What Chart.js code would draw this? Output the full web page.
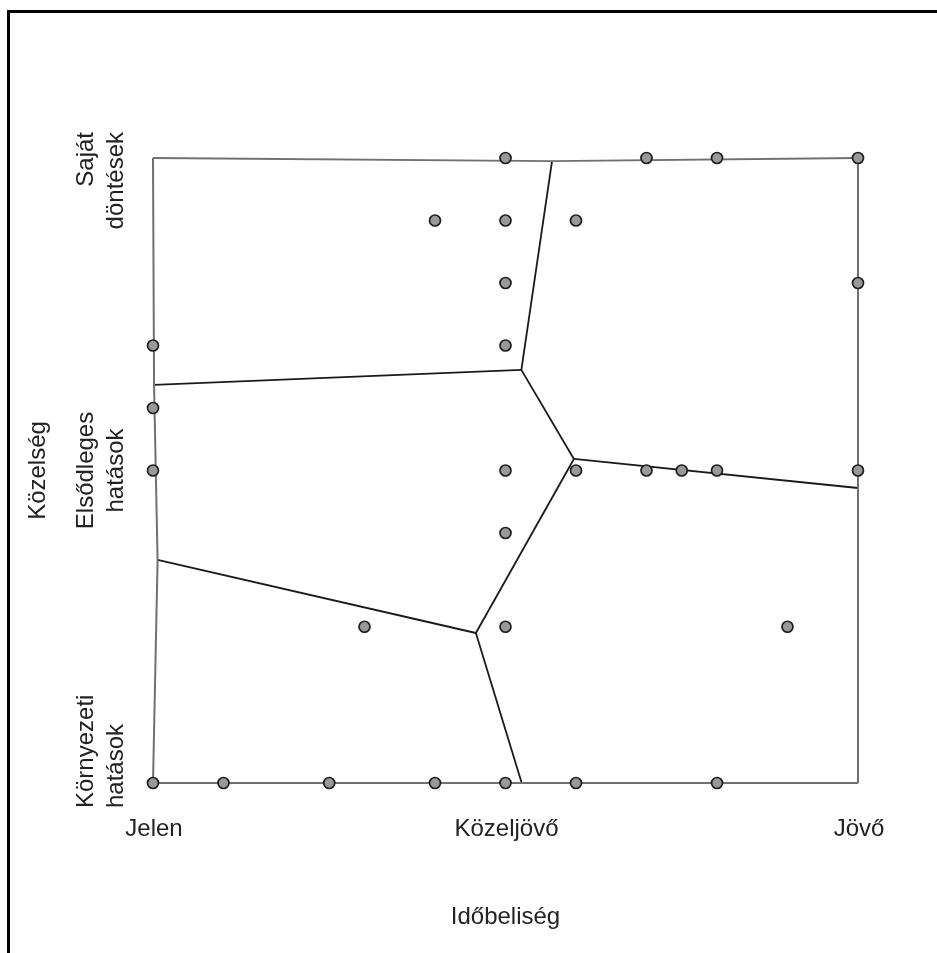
<!DOCTYPE html>
<html>
<head>
<meta charset="utf-8">
<script src="https://cdn.jsdelivr.net/npm/chart.js@4/dist/chart.umd.min.js"></script>
<style>
  html, body { margin: 0; padding: 0; background: #fff; }
  #wrap { position: relative; width: 937px; height: 953px; overflow: hidden; }
  #frame { position: absolute; left: 7px; top: 10px; width: 2000px; height: 2000px;
           border-left: 3px solid #000; border-top: 3px solid #000; pointer-events: none; }
</style>
</head>
<body>
<div id="wrap">
  <div id="frame"></div>
  <canvas id="chart"></canvas>
</div>
<script>
// pontok (idobeliseg, kozelseg)
var pontX = [1.0, 1.4, 1.6, 2.0,
             0.8, 1.0, 1.2,
             1.0, 2.0,
             0.0, 1.0,
             0.0,
             0.0, 1.0, 1.2, 1.4, 1.5, 1.6, 2.0,
             1.0,
             0.6, 1.0, 1.8,
             0.0, 0.2, 0.5, 0.8, 1.0, 1.2, 1.6];
var pontY = [2.0, 2.0, 2.0, 2.0,
             1.8, 1.8, 1.8,
             1.6, 1.6,
             1.4, 1.4,
             1.2,
             1.0, 1.0, 1.0, 1.0, 1.0, 1.0, 1.0,
             0.8,
             0.5, 0.5, 0.5,
             0.0, 0.0, 0.0, 0.0, 0.0, 0.0, 0.0];

// Voronoi csucsok
var csucsok = {
  A: [0.0, 2.0],   B: [1.132, 1.99], C: [2.0, 2.0],
  D: [1.045, 1.322], E: [0.003, 1.274], F: [1.194, 1.037],
  G: [2.0, 0.944], H: [0.013, 0.714], I: [0.916, 0.48],
  J: [1.046, 0.0], K: [0.0, 0.0],   L: [2.0, 0.0]
};
// keret es belso elek
var keretElek = [['A','B','C'], ['C','G','L'], ['L','J','K'], ['K','H','E','A']];
var belsoElek = [['B','D'], ['D','E'], ['D','F'], ['F','G'], ['F','I'], ['I','H'], ['I','J']];

var xErtekek = [0, 1, 2];
var xFeliratok = ['Jelen', 'Közeljövő', 'Jövő'];
var yErtekek = [0, 1, 2];
var yFeliratok = [['Környezeti', 'hatások'], ['Elsődleges', 'hatások'], ['Saját', 'döntések']];
var xCim = 'Időbeliség';
var yCim = 'Közelség';

function utvonal(nevek){
  return nevek.map(function(n){ return {x: csucsok[n][0], y: csucsok[n][1]}; });
}

var datasets = [];
datasets.push({
  type: 'scatter',
  data: pontX.map(function(x, i){ return {x: x, y: pontY[i]}; }),
  pointRadius: 5.5,
  pointBackgroundColor: '#999999',
  pointBorderColor: '#1e1e1e',
  pointBorderWidth: 1.7,
  clip: false
});
keretElek.forEach(function(e){
  datasets.push({ type: 'line', data: utvonal(e), borderColor: '#707070', borderWidth: 2,
    pointRadius: 0, fill: false, tension: 0, clip: false });
});
belsoElek.forEach(function(e){
  datasets.push({ type: 'line', data: utvonal(e), borderColor: '#1a1a1a', borderWidth: 1.8,
    pointRadius: 0, fill: false, tension: 0, clip: false });
});

var FONT = '24px "Liberation Sans", Arial, sans-serif';

var feliratok = {
  id: 'feliratok',
  afterDraw: function(chart){
    var ctx = chart.ctx, sx = chart.scales.x, sy = chart.scales.y;
    ctx.save();
    ctx.font = FONT;
    ctx.fillStyle = '#222';
    ctx.textBaseline = 'alphabetic';
    // x tengely
    ctx.textAlign = 'center';
    xErtekek.forEach(function(v, i){
      ctx.fillText(xFeliratok[i], sx.getPixelForValue(v) + 1, 836);
    });
    ctx.fillText(xCim, (sx.left + sx.right) / 2, 924);
    // y tengely
    yErtekek.forEach(function(v, i){
      var py = sy.getPixelForValue(v);
      var igazit = 'center', eltol = 0;
      if (i === 0) { igazit = 'left'; eltol = 25; }
      if (i === yErtekek.length - 1) { igazit = 'right'; eltol = -26; }
      ctx.save();
      ctx.translate(93, py + eltol);
      ctx.rotate(-Math.PI / 2);
      ctx.textAlign = igazit;
      yFeliratok[i].forEach(function(sor, k){ ctx.fillText(sor, 0, k * 30); });
      ctx.restore();
    });
    ctx.save();
    ctx.translate(45, (sy.top + sy.bottom) / 2);
    ctx.rotate(-Math.PI / 2);
    ctx.textAlign = 'center';
    ctx.fillText(yCim, 0, 0);
    ctx.restore();
    ctx.restore();
  }
};

new Chart(document.getElementById('chart'), {
  type: 'scatter',
  data: { datasets: datasets },
  options: {
    responsive: true,
    maintainAspectRatio: false,
    animation: false,
    layout: { padding: { left: 153, right: 79, top: 158, bottom: 170 } },
    scales: {
      x: { type: 'linear', min: 0, max: 2, display: false },
      y: { type: 'linear', min: 0, max: 2, display: false }
    },
    plugins: { legend: { display: false }, tooltip: { enabled: false } }
  },
  plugins: [feliratok]
});
</script>
</body>
</html>
